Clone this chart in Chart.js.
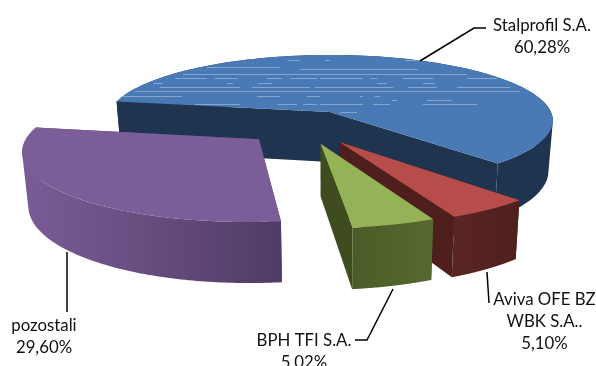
<!DOCTYPE html>
<html>
<head>
<meta charset="utf-8">
<style>
  html, body { margin: 0; padding: 0; background: #fff; }
  canvas { display: block; }
</style>
<script src="https://cdn.jsdelivr.net/npm/chart.js@4"></script>
</head>
<body>
<canvas id="shareholders" width="596" height="366"></canvas>
<script>
const categories = ["Stalprofil S.A.", "Aviva OFE BZ\nWBK S.A..", "BPH TFI S.A.", "pozostali"];
const shares = [60.28, 5.10, 5.02, 29.60];

// top face, cut face, outer wall left and right
const topColors = ["#4a7ab5", "#b64d4a", "#95b356", "#7b5d97"];
const cutColors = ["#1f344f", "#4f1f1e", "#3f4c20", "#5a4472"];
const wallColors = [["#1f344f", "#1f344f"], ["#5a2523", "#4f1f1e"], ["#4a5c28", "#56692f"], ["#7a5c96", "#503c66"]];

// how far each slice is pulled out, in disc units
const pull = [[0, 0], [0.04, 0.44], [-0.04, 0.465], [-0.305, 0.4]];
const paintOrder = [0, 1, 2, 3];

// label centre, first baseline, leader polyline
const labelLayout = [
  { x: 542, y: 31, leader: [[420, 61], [474, 28], [486, 28]] },
  { x: 544.5, y: 305, leader: [[487, 272], [489, 303]] },
  { x: 304, y: 346, leader: [[393, 289], [367, 340], [355, 340]] },
  { x: 44, y: 331, leader: [[67, 252], [67, 312]] }
];

// light scan streaks on the blue top face: [y, x0, x1]
const streaks = [
  [60, 288, 300], [60, 325, 330], [60, 405, 420],
  [67, 207, 280], [69, 300, 418],
  [74, 183, 467],
  [78, 175, 207], [78, 215, 238], [78, 267, 282], [78, 290, 317], [78, 320, 363], [78, 370, 377], [78, 403, 433], [78, 467, 497],
  [83, 153, 163], [83, 227, 233], [83, 258, 272], [83, 377, 387], [83, 423, 435],
  [87, 160, 240], [87, 252, 310], [87, 315, 393], [87, 408, 437], [87, 457, 510],
  [91, 135, 520],
  [96, 120, 182], [96, 257, 280], [96, 307, 320], [96, 360, 363], [96, 375, 380],
  [100, 392, 397], [100, 427, 452],
  [104, 195, 240], [104, 277, 297], [104, 303, 317], [104, 320, 363], [104, 373, 390], [104, 423, 477],
  [112, 340, 357]
];

const center = { x: 330, y: 112 };
const scale = { x: 221, y: 64.4 };
const perspective = 0.129;
const depth = 50;

function project(u, v, bottom) {
  const w = 1 / (1 - perspective * v);
  const shrink = bottom ? 0.98 : 1;
  return {
    x: center.x + scale.x * u * w * shrink,
    y: center.y + scale.y * v * w + (bottom ? depth * w : 0)
  };
}

function addPoly(ctx, pts) {
  pts.forEach((p, i) => i ? ctx.lineTo(p.x, p.y) : ctx.moveTo(p.x, p.y));
  ctx.closePath();
}

function path(ctx, pts) {
  ctx.beginPath();
  addPoly(ctx, pts);
}

function area(pts) {
  let sum = 0;
  pts.forEach((p, i) => {
    const q = pts[(i + 1) % pts.length];
    sum += p.x * q.y - q.x * p.y;
  });
  return sum;
}

function drawSlice(ctx, arc, i) {
  const [du, dv] = pull[i];
  const rimTop = [], rimBottom = [];
  const steps = 120;
  for (let s = 0; s <= steps; s++) {
    const a = arc.startAngle + (arc.endAngle - arc.startAngle) * s / steps;
    const u = Math.cos(a) + du, v = Math.sin(a) + dv;
    rimTop.push(project(u, v, false));
    rimBottom.push(project(u, v, true));
  }
  const apexTop = project(du, dv, false);
  const apexBottom = project(du, dv, true);

  // cut faces
  ctx.fillStyle = cutColors[i];
  path(ctx, [apexTop, rimTop[0], rimBottom[0], apexBottom]);
  ctx.fill();
  path(ctx, [apexTop, rimTop[steps], rimBottom[steps], apexBottom]);
  ctx.fill();

  // outer wall: rim quads in one path, all wound the same way so nothing cancels
  const xs = rimTop.map(p => p.x);
  const grad = ctx.createLinearGradient(Math.min(...xs), 0, Math.max(...xs), 0);
  grad.addColorStop(0, wallColors[i][0]);
  grad.addColorStop(1, wallColors[i][1]);
  ctx.fillStyle = grad;
  ctx.beginPath();
  for (let s = 0; s < steps; s++) {
    const quad = [rimTop[s], rimTop[s + 1], rimBottom[s + 1], rimBottom[s]];
    addPoly(ctx, area(quad) < 0 ? quad.reverse() : quad);
  }
  ctx.fill();

  // top face
  const top = [apexTop].concat(rimTop);
  ctx.fillStyle = topColors[i];
  path(ctx, top);
  ctx.fill();

  if (i === 0) {
    ctx.save();
    path(ctx, top);
    ctx.clip();
    ctx.strokeStyle = "rgba(190, 208, 232, 0.5)";
    ctx.lineWidth = 1;
    streaks.forEach(([y, x0, x1]) => {
      ctx.beginPath();
      ctx.moveTo(x0, y + 0.5);
      ctx.lineTo(x1, y + 0.5);
      ctx.stroke();
    });
    ctx.restore();
  }
}

function drawLabels(ctx) {
  ctx.strokeStyle = "#000";
  ctx.lineWidth = 1.5;
  labelLayout.forEach(l => {
    ctx.beginPath();
    l.leader.forEach(([x, y], n) => n ? ctx.lineTo(x, y) : ctx.moveTo(x, y));
    ctx.stroke();
  });
  ctx.fillStyle = "#111";
  ctx.font = '16.8px Lato, "Open Sans", sans-serif';
  ctx.textAlign = "center";
  ctx.textBaseline = "alphabetic";
  categories.forEach((name, i) => {
    const lines = name.split("\n");
    lines.push(shares[i].toFixed(2).replace(".", ",") + "%");
    lines.forEach((line, n) => ctx.fillText(line, labelLayout[i].x, labelLayout[i].y + n * 22));
  });
}

// Pie geometry comes from Chart.js; the arcs are painted as tilted 3D wedges.
const wedges = {
  id: "wedges",
  beforeDatasetsDraw(chart) {
    const arcs = chart.getDatasetMeta(0).data;
    paintOrder.forEach(i => drawSlice(chart.ctx, arcs[i], i));
    drawLabels(chart.ctx);
    return false;
  }
};

new Chart(document.getElementById("shareholders").getContext("2d"), {
  type: "pie",
  plugins: [wedges],
  data: {
    labels: categories,
    datasets: [{ data: shares, backgroundColor: topColors, borderWidth: 0 }]
  },
  options: {
    responsive: false,
    animation: false,
    rotation: 279.5,
    plugins: { legend: { display: false }, tooltip: { enabled: false } }
  }
});
</script>
</body>
</html>
